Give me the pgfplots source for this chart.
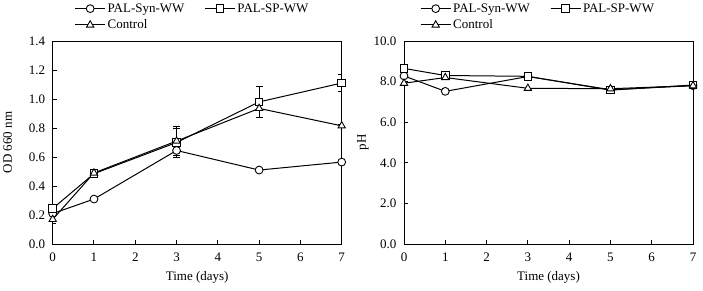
\documentclass[border=0pt]{standalone}
\usepackage{fontspec}
\setmainfont{Liberation Serif}
\usepackage{pgfplots}
\pgfplotsset{compat=1.18}
\begin{document}
\begin{tikzpicture}
\useasboundingbox (0pt,0pt) rectangle (703pt,290pt);
\pgfplotsset{
  myax/.style={
    scale only axis, width=289pt, height=203pt,
    axis line style={line width=1pt},
    tick style={line width=1pt, black}, tick align=inside, major tick length=4pt,
    xtick pos=bottom, ytick pos=left,
    xmin=0, xmax=7, xtick={0,...,7},
    tick label style={font=\fontsize{13}{15}\selectfont},
    xticklabel style={yshift=-5pt},
    yticklabel style={xshift=-4pt},
    label style={font=\fontsize{13}{15}\selectfont},
    /pgf/number format/assume math mode=true,
    xlabel={Time (days)},
    xlabel style={yshift=-3pt},
    legend columns=2,
    legend cell align=left,
    legend style={draw=none, fill=none, font=\fontsize{13}{15}\selectfont, anchor=north west,
      /tikz/every even column/.append style={column sep=18pt}, row sep=2pt},
    legend image code/.code={\draw[mark repeat=2,mark phase=2] plot coordinates {(0pt,0pt)(15pt,0pt)(30pt,0pt)};},
    cycle list={
      {black, line width=1pt, mark=*, mark size=3.9pt, mark options={solid, fill=white, line width=0.9pt}},
      {black, line width=1pt, mark=square*, mark size=3.8pt, mark options={solid, fill=white, line width=0.9pt}},
      {black, line width=1pt, mark=triangle*, mark size=4.2pt, mark options={solid, fill=white, line width=0.9pt}}},
    error bars/error bar style={line width=0.8pt},
    error bars/error mark options={rotate=90, mark size=3.5pt, line width=0.8pt},
  }
}
\begin{axis}[myax, at={(52.7pt,46pt)}, anchor=south west,
  ymin=0, ymax=1.4, ytick={0,0.2,...,1.4},
  yticklabel style={/pgf/number format/.cd, fixed, fixed zerofill, precision=1},
  ylabel={OD 660 nm}, ylabel style={at={(rel axis cs:0,0.5)}, anchor=center, yshift=45pt},
  legend style={at={(rel axis cs:0.065,1.205)}}]
\addplot coordinates {(0,0.21) (1,0.31) (3,0.645) (5,0.51) (7,0.565)};
\addplot+[error bars/.cd, y dir=both, y explicit] coordinates {(0,0.245) +- (0,0.01) (1,0.485) +- (0,0.01) (3,0.70) +- (0,0.10) (5,0.98) +- (0,0.105) (7,1.11) +- (0,0.06)};
\addplot+[error bars/.cd, y dir=both, y explicit] coordinates {(0,0.17) +- (0,0.03) (1,0.49) +- (0,0.01) (3,0.71) +- (0,0.10) (5,0.935) +- (0,0.06) (7,0.815) +- (0,0.01)};
\legend{PAL-Syn-WW, PAL-SP-WW, Control}
\end{axis}
\begin{axis}[myax, at={(404pt,46pt)}, anchor=south west,
  ymin=0, ymax=10, ytick={0,2,...,10},
  yticklabel style={/pgf/number format/.cd, fixed, fixed zerofill, precision=1},
  ylabel={pH}, ylabel style={at={(rel axis cs:0,0.5)}, anchor=center, yshift=41pt},
  legend style={at={(rel axis cs:0.045,1.205)}}]
\addplot coordinates {(0,8.28) (1,7.52) (3,8.25) (5,7.6) (7,7.8)};
\addplot coordinates {(0,8.65) (1,8.3) (3,8.26) (5,7.58) (7,7.83)};
\addplot coordinates {(0,7.92) (1,8.2) (3,7.67) (5,7.65) (7,7.8)};
\legend{PAL-Syn-WW, PAL-SP-WW, Control}
\end{axis}
\end{tikzpicture}
\end{document}
